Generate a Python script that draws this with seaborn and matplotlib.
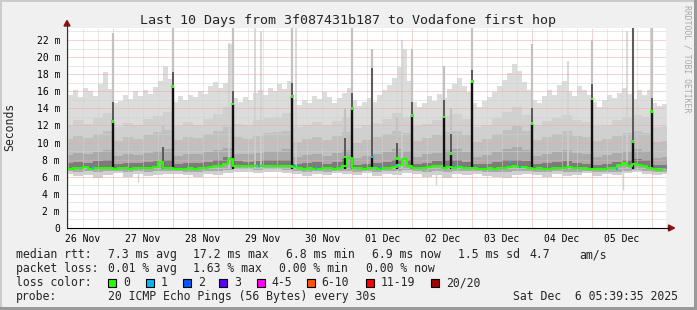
import numpy as np
import pandas as pd
import matplotlib
matplotlib.use("Agg")
import matplotlib.pyplot as plt
from matplotlib.lines import Line2D
from matplotlib.patches import Rectangle, Polygon
import seaborn as sns

# ---------------- data ----------------
t_start = "2025-11-26 05:39:35"
t_end = "2025-12-06 05:39:35"
bin2h_start = "2025-11-26 04:00"   # 2-hour bins
bin4h_start = "2025-11-26 04:00"   # 4-hour bins

# max rtt per 2h bin (ms) - top of lightest smoke
rtt_max = [15.0, 15.6, 16.1, 15.3, 16.4, 16.0, 15.5, 16.8, 18.3, 16.3,
           14.6, 14.9, 15.6, 15.1, 16.0, 15.4, 16.2, 15.7, 16.5, 17.2, 18.9, 17.4,
           14.8, 15.4, 15.0, 15.6, 15.3, 16.0, 15.7, 16.6, 17.1, 16.4, 17.0, 21.5,
           15.2, 14.7, 15.3, 15.0, 15.8, 16.2, 15.6, 16.4, 16.0, 16.9, 16.3, 17.2,
           15.1, 14.4, 15.0, 14.6, 15.4, 15.1, 15.9, 15.3, 14.6, 15.2, 15.8, 16.4,
           15.0, 14.3, 14.8, 15.2, 14.7, 15.6, 16.1, 16.7, 17.6, 18.8, 21.0, 17.2,
           14.8, 14.2, 14.6, 15.4, 14.9, 15.7, 15.2, 16.3, 16.8, 17.5, 16.6, 15.9,
           14.6, 14.1, 14.9, 15.3, 15.9, 16.6, 17.3, 18.1, 19.2, 18.4, 17.1, 16.2,
           15.0, 14.6, 15.4, 16.1, 15.6, 16.7, 17.2, 16.0, 15.5, 16.6, 16.1, 15.6,
           14.7, 14.2, 15.0, 15.6, 15.2, 15.8, 16.4, 15.7, 15.1, 16.2, 15.6, 16.1,
           14.6, 14.3, 14.5]

# median rtt per 2h bin (ms)
rtt_median = [7.0, 6.95, 7.0, 7.05, 7.1, 6.95, 7.0, 7.0, 7.05, 7.0,
              6.95, 7.0, 7.0, 6.95, 7.05, 7.0, 7.0, 7.0, 7.1, 7.7, 7.05, 7.0,
              6.95, 6.9, 6.95, 7.0, 6.95, 7.0, 7.05, 7.1, 7.2, 7.3, 7.5, 8.1,
              7.25, 7.2, 7.25, 7.2, 7.2, 7.3, 7.25, 7.3, 7.25, 7.2, 7.25, 7.2,
              7.1, 7.0, 6.95, 7.0, 6.9, 6.95, 7.0, 7.0, 6.95, 7.0, 7.3, 8.2,
              7.0, 7.0, 6.95, 7.0, 7.0, 6.95, 7.05, 7.0, 7.1, 7.4, 8.1, 7.2,
              7.0, 7.0, 7.05, 7.1, 7.25, 7.3, 7.0, 7.1, 7.0, 7.15, 7.0, 7.05,
              7.0, 6.95, 6.9, 7.0, 6.95, 7.0, 7.05, 7.1, 7.2, 7.1, 7.15, 7.0,
              6.95, 7.0, 6.95, 6.9, 7.0, 7.05, 7.0, 7.1, 7.0, 7.05, 7.0, 6.95,
              6.85, 6.9, 6.9, 7.0, 7.0, 7.4, 7.6, 7.3, 7.5, 7.4, 7.2, 7.0,
              6.9, 6.8, 6.85]

# smoke percentiles per 4h bin (ms)
rtt_p90 = [12.0, 12.6, 12.2, 12.9, 13.4,
           11.8, 12.3, 12.0, 12.7, 13.1, 13.6,
           11.9, 12.4, 12.1, 12.8, 13.3, 14.2,
           12.2, 12.0, 12.6, 12.9, 13.0, 13.5,
           11.8, 12.1, 12.4, 12.0, 12.5, 13.0,
           11.7, 12.0, 12.3, 12.8, 13.4, 13.0,
           11.9, 12.2, 12.6, 13.1, 13.3, 12.7,
           11.8, 12.1, 12.9, 13.6, 14.1, 13.2,
           12.0, 12.5, 12.9, 13.2, 12.6, 12.4,
           11.9, 12.1, 12.6, 12.9, 13.2, 13.0,
           11.8, 11.9]
rtt_p75 = [10.4, 10.8, 10.5, 11.0, 11.3,
           10.2, 10.6, 10.4, 10.9, 11.2, 11.5,
           10.3, 10.7, 10.5, 11.0, 11.4, 11.8,
           10.6, 10.4, 10.8, 11.1, 11.2, 11.4,
           10.1, 10.4, 10.7, 10.3, 10.8, 11.2,
           10.0, 10.3, 10.6, 11.0, 11.4, 11.1,
           10.2, 10.5, 10.9, 11.2, 11.4, 10.9,
           10.1, 10.4, 11.0, 11.5, 11.9, 11.3,
           10.3, 10.7, 11.0, 11.3, 10.8, 10.6,
           10.2, 10.4, 10.8, 11.1, 11.3, 11.1,
           10.1, 10.2]
rtt_p60 = [8.5, 8.8, 8.6, 8.9, 9.1,
           8.4, 8.6, 8.5, 8.8, 9.0, 9.2,
           8.4, 8.7, 8.6, 8.9, 9.1, 9.4,
           8.7, 8.6, 8.8, 9.0, 9.0, 9.2,
           8.3, 8.5, 8.7, 8.4, 8.8, 9.1,
           8.2, 8.4, 8.6, 8.9, 9.2, 9.0,
           8.3, 8.6, 8.8, 9.1, 9.2, 8.9,
           8.3, 8.5, 8.9, 9.3, 9.5, 9.1,
           8.4, 8.7, 8.9, 9.1, 8.8, 8.6,
           8.3, 8.5, 8.8, 9.0, 9.2, 9.0,
           8.2, 8.3]
rtt_p52 = [7.6, 7.7, 7.6, 7.8, 7.9,
           7.5, 7.6, 7.6, 7.7, 7.8, 7.9,
           7.5, 7.6, 7.6, 7.7, 7.9, 8.3,
           7.8, 7.7, 7.8, 7.9, 7.9, 8.0,
           7.5, 7.6, 7.7, 7.5, 7.7, 8.1,
           7.4, 7.5, 7.6, 7.7, 8.0, 7.9,
           7.5, 7.6, 7.8, 7.9, 7.9, 7.7,
           7.5, 7.5, 7.7, 7.9, 8.0, 7.8,
           7.5, 7.6, 7.7, 7.8, 7.6, 7.5,
           7.4, 7.5, 7.7, 8.0, 8.1, 7.9,
           7.4, 7.4]
rtt_min = [6.3, 6.1, 6.2, 5.9, 6.2,
           6.4, 6.0, 6.3, 6.1, 6.2, 6.3,
           6.3, 6.2, 6.0, 6.3, 6.2, 6.4,
           6.6, 6.5, 6.4, 6.6, 6.5, 6.4,
           6.3, 6.1, 6.3, 6.2, 6.4, 6.3,
           6.2, 6.4, 6.1, 6.3, 6.2, 6.4,
           6.3, 6.0, 6.2, 5.9, 6.3, 6.2,
           6.3, 6.1, 6.0, 5.9, 6.2, 6.3,
           6.2, 6.0, 6.3, 6.1, 6.2, 6.4,
           6.1, 6.3, 6.2, 6.4, 6.5, 6.3,
           6.2, 6.3]
rtt_p10 = [6.7, 6.6, 6.7, 6.6, 6.7,
           6.7, 6.6, 6.7, 6.6, 6.7, 6.7,
           6.7, 6.6, 6.6, 6.7, 6.7, 6.8,
           6.9, 6.9, 6.8, 6.9, 6.9, 6.8,
           6.7, 6.6, 6.7, 6.6, 6.7, 6.7,
           6.6, 6.7, 6.6, 6.7, 6.7, 6.8,
           6.7, 6.6, 6.7, 6.6, 6.7, 6.7,
           6.7, 6.6, 6.5, 6.6, 6.7, 6.7,
           6.6, 6.6, 6.7, 6.6, 6.6, 6.7,
           6.5, 6.6, 6.6, 6.7, 6.8, 6.7,
           6.6, 6.6]

# short bursts (mostly right after midnight)
burst_time = ["2025-11-27 00:00", "2025-11-28 00:00", "2025-11-29 00:00", "2025-11-30 00:00",
              "2025-12-01 00:00", "2025-12-02 00:00", "2025-12-03 00:00", "2025-12-04 00:00",
              "2025-12-05 00:00", "2025-12-06 00:00",
              "2025-11-27 20:00", "2025-11-30 21:00", "2025-12-01 08:00", "2025-12-01 18:00",
              "2025-12-02 12:45", "2025-12-02 15:30", "2025-12-05 16:15"]
burst_median = [12.5, 16.6, 14.5, 15.4, 14.0, 13.2, 17.1, 12.2, 15.1, 13.6,
                7.7, 8.3, 8.3, 8.1, 13.0, 8.7, 10.1]
burst_mid = [14.8, 18.2, 16.0, 17.0, 15.8, 14.8, 18.5, 14.0, 16.8, 15.2,
             9.5, 10.5, 18.7, 10.0, 15.0, 11.0, 23.4]
burst_max = [22.8, 23.4, 23.4, 23.4, 23.4, 21.0, 23.4, 21.5, 22.0, 23.4,
             12.0, 14.0, 21.0, 13.0, 19.0, 14.0, 23.4]
burst_loss = [0, 0, 0, 0, 0, 0, 0, 0, 0, 0, 0, 0, 1, 0, 0, 0, 0]

# isolated single outliers (ms)
outlier_time = ["2025-11-29 09:00", "2025-11-29 11:30", "2025-11-30 01:30", "2025-12-01 20:00",
                "2025-12-05 14:00", "2025-12-05 23:30", "2025-11-28 22:30", "2025-12-04 14:30"]
outlier_max = [23.4, 23.0, 23.4, 22.0, 23.0, 23.4, 21.6, 19.5]
dip_time = ["2025-12-02 09:30", "2025-12-05 12:30", "2025-11-27 10:00"]
dip_min = [5.0, 4.4, 5.4]

# single-loss samples on the median line
loss1_time = ["2025-11-26 16:00", "2025-11-29 10:30", "2025-11-30 01:00", "2025-11-30 09:30",
              "2025-12-01 11:30", "2025-12-01 17:30", "2025-12-02 17:30",
              "2025-12-03 15:00", "2025-12-03 19:00", "2025-12-05 10:00"]
loss1_rtt = [7.0, 7.25, 7.2, 7.0, 7.0, 7.4, 7.2, 7.7, 7.1, 6.9]

day_labels = ["26 Nov", "27 Nov", "28 Nov", "29 Nov", "30 Nov",
              "01 Dec", "02 Dec", "03 Dec", "04 Dec", "05 Dec"]
y_values = [0, 2, 4, 6, 8, 10, 12, 14, 16, 18, 20, 22]
y_labels = ["0", "2 m", "4 m", "6 m", "8 m", "10 m", "12 m", "14 m", "16 m", "18 m", "20 m", "22 m"]

loss_names = ["0", "1", "2", "3", "4-5", "6-10", "11-19", "20/20"]
loss_colors = ["#26ff00", "#00b8ff", "#0059ff", "#5e00ff", "#ff00ff", "#ff5500", "#ff0000", "#a10000"]

title = "Last 10 Days from 3f087431b187 to Vodafone first hop"

# ---------------- figure ----------------
sns.set_style("white")
MONO = "DejaVu Sans Mono"
plt.rcParams["font.family"] = [MONO, "DejaVu Sans"]

W, H = 697, 310
fig = plt.figure(figsize=(W / 100, H / 100), dpi=100, facecolor="#f0f0f0")

def fx(x):
    return x / W

def fy(y):
    return 1 - y / H

ax = fig.add_axes([fx(67), fy(228), (666 - 67) / W, 200 / H])
ax.set_facecolor("white")
for s in ax.spines.values():
    s.set_visible(False)

x2 = pd.date_range(bin2h_start, periods=len(rtt_max) + 1, freq="2h")
x4 = pd.date_range(bin4h_start, periods=len(rtt_p90) + 1, freq="4h")

def ext(a):
    a = np.asarray(a, float)
    return np.append(a, a[-1])

low2 = np.repeat(np.asarray(rtt_min), 2)[:len(rtt_max)]
p52_2 = np.repeat(np.asarray(rtt_p52), 2)[:len(rtt_max)]

ax.fill_between(x2, ext(low2), ext(rtt_max), step="post", color="#dcdcdc", lw=0, zorder=1)
ax.fill_between(x4, ext(rtt_min), ext(rtt_p90), step="post", color="#d0d0d0", lw=0, zorder=1.1)
ax.fill_between(x4, ext(rtt_p10), ext(rtt_p75), step="post", color="#c0c0c0", lw=0, zorder=1.2)
ax.fill_between(x4, ext(rtt_p10), ext(rtt_p60), step="post", color="#aaaaaa", lw=0, zorder=1.3)
ax.fill_between(x2, ext(rtt_median), ext(p52_2), step="post", color="#7c7c7c", lw=0, zorder=1.4)

# outliers / dips
ot = pd.to_datetime(outlier_time)
ax.vlines(ot, 7.0, outlier_max, color="#cfcfcf", lw=1.1, zorder=1.5)
dt = pd.to_datetime(dip_time)
ax.vlines(dt, dip_min, 6.8, color="#d4d4d4", lw=1.0, zorder=1.5)

# grid
minor_t = pd.date_range("2025-11-26 06:00", t_end, freq="6h")
for t in minor_t:
    if t.hour == 0:
        ax.axvline(t, color="#efa8a8", lw=0.72, ls=(0, (1, 1)), zorder=2)
    else:
        ax.axvline(t, color="#d2d2d2", lw=0.72, ls=(0, (1, 1)), zorder=2)
for v in range(1, 24):
    if v % 2 == 0:
        ax.axhline(v, color="#efa8a8", lw=0.72, ls=(0, (1, 1)), zorder=2)
    else:
        ax.axhline(v, color="#d2d2d2", lw=0.72, ls=(0, (1, 1)), zorder=2)

# bursts
bt = pd.to_datetime(burst_time)
ax.vlines(bt, 7.0, burst_max, color="#c2c2c2", lw=1.6, zorder=3)
ax.vlines(bt, 7.0, burst_mid, color="#5a5a5a", lw=1.4, zorder=3.1)
ax.vlines(bt, 6.9, burst_median, color="#111111", lw=1.7, zorder=3.2)

# median line
med_df = pd.DataFrame({"time": x2[:-1], "rtt": rtt_median})
sns.lineplot(data=med_df, x="time", y="rtt", ax=ax, color="#26ff00", lw=1.5,
             drawstyle="steps-post", zorder=4, legend=False)
burst_df = pd.DataFrame({"time": bt, "rtt": burst_median,
                         "c": [loss_colors[i] for i in burst_loss]})
sns.scatterplot(data=burst_df, x="time", y="rtt", ax=ax, c=burst_df["c"], marker="s",
                s=4, linewidth=0, zorder=5, legend=False)
loss_df = pd.DataFrame({"time": pd.to_datetime(loss1_time), "rtt": loss1_rtt})
sns.scatterplot(data=loss_df, x="time", y="rtt", ax=ax, color=loss_colors[1], marker="s",
                s=4, linewidth=0, zorder=5, legend=False)

ax.set_xlim(pd.Timestamp(t_start), pd.Timestamp(t_end))
ax.set_ylim(0, 23.4)
ax.set_xlabel("")
ax.set_ylabel("")

noon = pd.date_range("2025-11-26 12:00", periods=len(day_labels), freq="D")
ax.set_xticks(noon)
ax.set_xticklabels(day_labels, fontsize=7, family=MONO)
ax.set_yticks(y_values)
ax.set_yticklabels(y_labels, fontsize=7, family=MONO)
ax.tick_params(axis="x", length=0, pad=4, colors="black")
ax.tick_params(axis="y", length=0, pad=5, colors="black")

# axes lines and arrows
arrow_c = "#8b1010"
fig.add_artist(Line2D([fx(67), fx(67)], [fy(228), fy(25)], color="#303030", lw=0.8))
fig.add_artist(Line2D([fx(67), fx(669)], [fy(228), fy(228)], color="black", lw=0.8))
fig.add_artist(Polygon([[fx(67), fy(20.5)], [fx(64), fy(26)], [fx(70), fy(26)]],
                       closed=True, color=arrow_c, transform=fig.transFigure))
fig.add_artist(Polygon([[fx(674.5), fy(228)], [fx(668.5), fy(225)], [fx(668.5), fy(231)]],
                       closed=True, color=arrow_c, transform=fig.transFigure))

# frame
fig.add_artist(Rectangle((0, fy(2)), 1, 2 / H, transform=fig.transFigure, color="#cbcbcb", lw=0))
fig.add_artist(Rectangle((0, 0), 2 / W, 1, transform=fig.transFigure, color="#cbcbcb", lw=0))
fig.add_artist(Rectangle((fx(694), 0), 3 / W, 1, transform=fig.transFigure, color="#999999", lw=0))
fig.add_artist(Rectangle((0, 0), 1, 3 / H, transform=fig.transFigure, color="#999999", lw=0))

# texts
fig.text(fx(348), fy(24), title, fontsize=9.6, family=MONO, ha="center", va="baseline")
fig.text(fx(10), fy(127), "Seconds", fontsize=8.3, family=MONO, rotation=90,
         ha="center", va="center")
fig.text(fx(687.5), fy(59), "RRDTOOL / TOBI OETIKER", fontsize=5.9, family=MONO,
         rotation=270, ha="center", va="center", color="#a8a8a8")

LF = 8.3
rows = [
    (258, [(16, "median rtt:"), (107.5, "7.3 ms avg"), (193.5, "17.2 ms max"), (286, "6.8 ms min"),
           (372.3, "6.9 ms now"), (458.3, "1.5 ms sd"), (529, "4.7"), (579.3, "am/s")]),
    (272, [(16, "packet loss:"), (107.5, "0.01 % avg"), (193.5, "1.63 % max"), (279.3, "0.00 % min"),
           (365.7, "0.00 % now")]),
    (286, [(16, "loss color:")]),
    (300, [(16, "probe:"), (107.5, "20 ICMP Echo Pings (56 Bytes) every 30s"),
           (513.3, "Sat Dec  6 05:39:35 2025")]),
]
for yb, items in rows:
    for xp, s in items:
        fig.text(fx(xp), fy(yb), s, fontsize=LF, family=MONO, ha="left", va="baseline")

box_x = [108.3, 145.7, 182.7, 219.3, 256.7, 306.7, 365.7, 431.0]
for bx, name, col in zip(box_x, loss_names, loss_colors):
    fig.add_artist(Rectangle((fx(bx), fy(286.5)), 8 / W, 8 / H, transform=fig.transFigure,
                             facecolor=col, edgecolor="black", lw=0.8))
    fig.text(fx(bx + 15), fy(286), name, fontsize=LF, family=MONO, ha="left", va="baseline")

fig.savefig("out.png", dpi=100, facecolor=fig.get_facecolor())
